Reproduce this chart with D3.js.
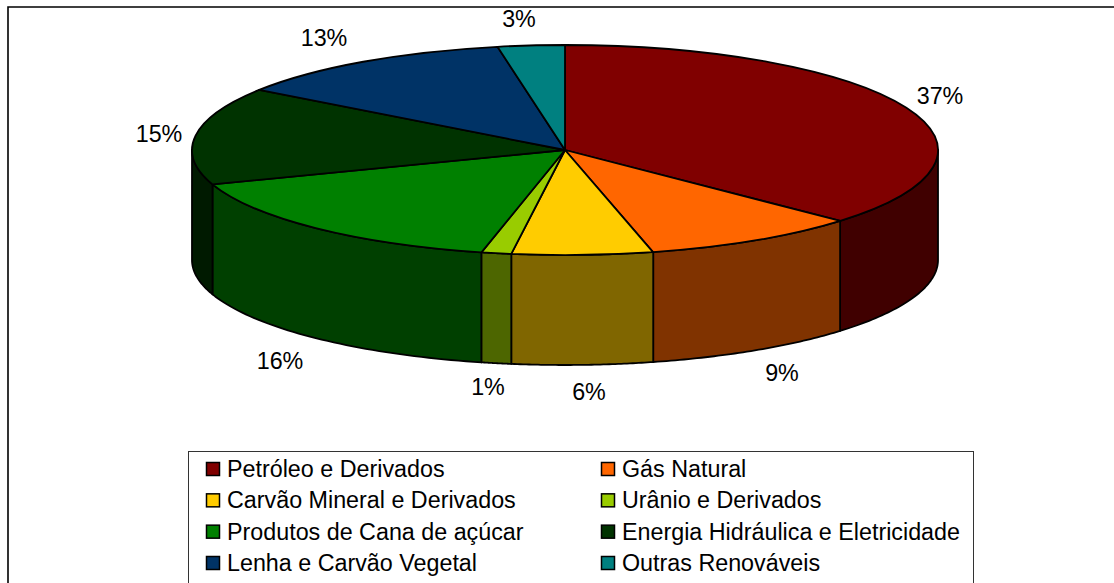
<!DOCTYPE html>
<html><head><meta charset="utf-8">
<script src="https://cdn.jsdelivr.net/npm/d3@7"></script>
<style>html,body{margin:0;padding:0;background:#fff}svg{display:block}text{font-family:"Liberation Sans",Arial,sans-serif;fill:#000}</style>
</head><body><svg id="c" width="1114" height="583"></svg>
<script>
const categories=["Petróleo e Derivados","Gás Natural","Carvão Mineral e Derivados","Urânio e Derivados","Produtos de Cana de açúcar","Energia Hidráulica e Eletricidade","Lenha e Carvão Vegetal","Outras Renováveis"];
const values=[36.8,9.4,6.1,1.3,16.1,15.0,12.4,2.9];
const percentLabels=["37%","9%","6%","1%","16%","15%","13%","3%"];
const colors=["#800000","#FF6600","#FFCC00","#99CC00","#008000","#003300","#003366","#008080"];
const sideColors=["#400000","#803300","#806600","#4D6600","#004000","#001A00","#001A33","#004040"];
const labelAnchors=[[940,104],[782,381],[589,400],[488,395],[280,369],[159,142],[324,46],[519,27]];

const svg=d3.select("#c");
const cx=565,cy=150,rx=373,ry=105,depth=110;
svg.append("path").attr("d","M8,1000V7H1114").attr("fill","none").attr("stroke","#000").attr("stroke-width",1.6);

const arcs=d3.pie().sort(null).value(d=>d)(values);
const px=a=>cx+rx*Math.sin(a), py=a=>cy-ry*Math.cos(a);
const H=Math.PI/2, T=3*Math.PI/2;

// sides: only the front half of the rim
const g=svg.append("g");
arcs.forEach((d,i)=>{
  const a0=Math.max(d.startAngle,H), a1=Math.min(d.endAngle,T);
  if(a1<=a0) return;
  const p=d3.path();
  const n=48;
  d3.range(n+1).forEach(k=>{const a=a0+(a1-a0)*k/n; k?p.lineTo(px(a),py(a)):p.moveTo(px(a),py(a));});
  d3.range(n,-1,-1).forEach(k=>{const a=a0+(a1-a0)*k/n; p.lineTo(px(a),py(a)+depth);});
  p.closePath();
  g.append("path").attr("d",p.toString()).attr("fill",sideColors[i]).attr("stroke","#000").attr("stroke-width",1.8).attr("stroke-linejoin","round");
});
// top face
const arc=d3.arc().innerRadius(0).outerRadius(1);
svg.append("g").attr("transform",`translate(${cx},${cy}) scale(${rx},${ry})`)
  .selectAll("path").data(arcs).join("path")
  .attr("d",arc).attr("fill",(d,i)=>colors[i]).attr("stroke","#000").attr("stroke-width",1.8)
  .attr("stroke-linejoin","round").attr("vector-effect","non-scaling-stroke");
// percent labels
svg.append("g").selectAll("text").data(percentLabels).join("text")
  .attr("x",(d,i)=>labelAnchors[i][0]).attr("y",(d,i)=>labelAnchors[i][1])
  .attr("text-anchor","middle").attr("font-size",23.3).text(d=>d);
// legend
svg.append("rect").attr("x",188.5).attr("y",451.5).attr("width",785).attr("height",200).attr("fill","#fff").attr("stroke","#333").attr("stroke-width",1);
const colX=[206,601], rowY=d3.scalePoint().domain([0,1,2,3]).range([477,571]);
const leg=svg.append("g").selectAll("g").data(categories).join("g")
  .attr("transform",(d,i)=>`translate(${colX[i%2]},${rowY(Math.floor(i/2))})`);
leg.append("rect").attr("x",0.5).attr("y",-14.5).attr("width",13).attr("height",13)
  .attr("fill",(d,i)=>colors[i]).attr("stroke","#000").attr("stroke-width",1.5);
leg.append("text").attr("x",21).attr("y",0).attr("font-size",23.3).text(d=>d);
</script></body></html>
